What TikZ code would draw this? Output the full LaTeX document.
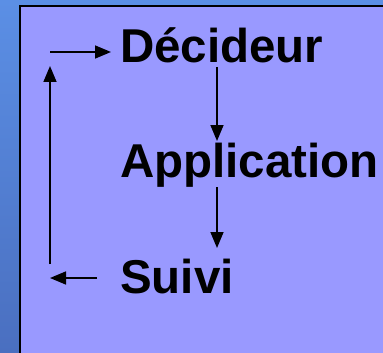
\documentclass[tikz,border=0pt]{standalone}
\usepackage{fontspec}
\setmainfont{Liberation Sans}
\usetikzlibrary{arrows.meta}
\definecolor{bgtop}{RGB}{91,143,229}
\definecolor{bgbot}{RGB}{74,111,192}
\definecolor{boxfill}{RGB}{153,153,255}
\tikzset{
  lbl/.style={anchor=base west, inner sep=0pt, font=\fontsize{47.5}{47.5}\selectfont\bfseries, text=black},
  arr/.style={-{Triangle[length=16pt,width=13pt]}, line width=1.6pt, black},
}
\begin{document}
\begin{tikzpicture}[x=1pt,y=-1pt]
\useasboundingbox (0,0) rectangle (383,353);
\shade[top color=bgtop, bottom color=bgbot] (0,0) rectangle (383,353);
\fill[boxfill] (20,6) rectangle (390,360);
\draw[line width=2pt, black] (20,360) -- (20,6) -- (390,6);
\node[lbl] (dec) at (120,63) {Décideur};
\node[lbl] (app) at (120,177) {Application};
\node[lbl] (sui) at (120,293) {Suivi};
\coordinate (d1) at (217,67);
\coordinate (d2) at (217,141);
\coordinate (a1) at (217,187);
\coordinate (a2) at (217,248);
\coordinate (s1) at (97,278);
\coordinate (s2) at (50,278);
\coordinate (v1) at (50,264);
\coordinate (v2) at (50,66);
\coordinate (t1) at (50,52);
\coordinate (t2) at (111,52);
\draw[arr] (d1) -- (d2);
\draw[arr] (a1) -- (a2);
\draw[arr] (s1) -- (s2);
\draw[arr] (v1) -- (v2);
\draw[arr] (t1) -- (t2);
\end{tikzpicture}
\end{document}
